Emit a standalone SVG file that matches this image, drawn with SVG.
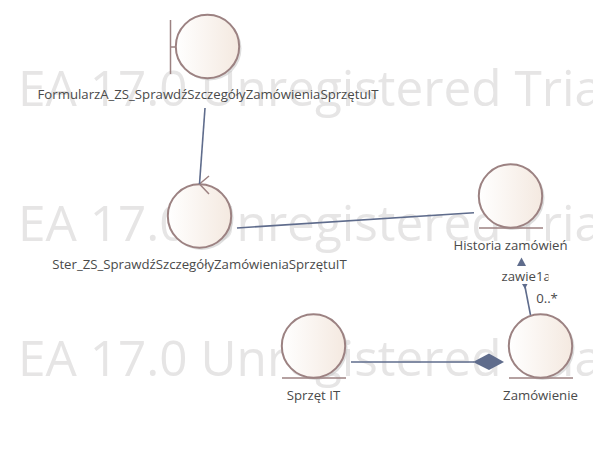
<svg xmlns="http://www.w3.org/2000/svg" width="593" height="451" viewBox="0 0 593 451">
<style>
.wm{font:49.500px "Open Sans",sans-serif;fill:#e6e5e5}
.t{font:13.2px "Open Sans",sans-serif;fill:#4a4a4a;text-anchor:middle}
.c{fill:url(#g);stroke:#9c8282;stroke-width:2}
.s{fill:#c8c8c8;opacity:.6}
.o{stroke:#9c8282;stroke-width:1.5;fill:none}
.l{stroke:#5f6c8c;stroke-width:1.6;fill:none}
.f{fill:#5f6c8c}
</style>
<defs><linearGradient id="g"><stop offset="0" stop-color="#fff"/><stop offset="1" stop-color="#f4e9e0"/></linearGradient>
<clipPath id="cut"><rect x="495" y="265" width="53.500" height="22"/></clipPath></defs>
<rect width="593" height="451" fill="#fff"/>
<g id="watermark">
<text class="wm" x="18" y="106">EA 17.0 Unregistered Trial</text>
<text class="wm" x="18" y="241">EA 17.0 Unregistered Trial</text>
<text class="wm" x="18" y="376">EA 17.0 Unregistered Trial</text>
</g>
<g id="node-formularz">
<circle class="s" cx="209.500" cy="48.500" r="32"/>
<path class="o" d="M170.500 20V74M170.500 47H176"/>
<circle class="c" cx="207.500" cy="46.500" r="31.700"/>
<text class="t" x="208" y="99">FormularzA_ZS_SprawdźSzczegółyZamówieniaSprzętuIT</text>
</g>
<g id="node-ster">
<circle class="s" cx="201.500" cy="218" r="32"/>
<circle class="c" cx="199.500" cy="216" r="31.700"/>
<path class="o" d="M209 176L199.500 184L209 194"/>
<text class="t" x="199.500" y="268.500">Ster_ZS_SprawdźSzczegółyZamówieniaSprzętuIT</text>
</g>
<g id="node-historia">
<circle class="s" cx="512.500" cy="198" r="32"/>
<circle class="c" cx="510.500" cy="196" r="31.700"/>
<path class="o" d="M479 228H543"/>
<text class="t" x="510.500" y="249.500">Historia zamówień</text>
</g>
<g id="node-sprzet">
<circle class="s" cx="315.500" cy="348" r="32"/>
<circle class="c" cx="313.500" cy="346" r="31.700"/>
<path class="o" d="M282 378H346"/>
<text class="t" x="313.500" y="400">Sprzęt IT</text>
</g>
<g id="node-zamowienie">
<circle class="s" cx="542.500" cy="348" r="32"/>
<circle class="c" cx="540.500" cy="346" r="31.700"/>
<path class="o" d="M509 378H573"/>
<text class="t" x="540.500" y="400">Zamówienie</text>
</g>
<g id="connectors">
<path class="l" d="M205 108L199.500 184"/>
<path class="l" d="M237 228L474 212.700"/>
<path class="l" d="M524.500 284L530.500 315"/>
<path class="f" d="M521.500 257.500L526 266H517Z"/>
<path class="f" d="M522 284H527.500L525 289Z"/>
<path class="l" d="M351 362H474"/>
<path class="f" d="M473 362L489 353.500L504 362L489 370Z"/>
<text class="t" style="text-anchor:start" x="501.500" y="280.500" clip-path="url(#cut)">zawie1a</text>
<text class="t" x="547" y="303">0..*</text>
</g>
</svg>
